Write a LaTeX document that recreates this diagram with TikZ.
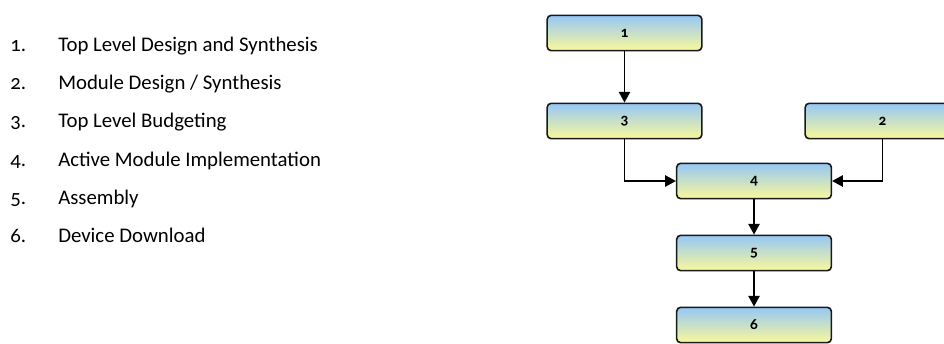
\documentclass[tikz,border=0pt]{standalone}
\usepackage{fontspec}
\setmainfont{Carlito}[Numbers=OldStyle]
\usetikzlibrary{arrows.meta}
\definecolor{boxtop}{RGB}{150,200,245}
\definecolor{boxbot}{RGB}{250,248,155}
\tikzset{
  px/.style={x=0.75pt,y=-0.75pt},
  stepbox/.style={draw=black!90, line width=1.2pt, rounded corners=3pt,
    top color=boxtop, bottom color=boxbot, minimum width=116pt, minimum height=26.5pt,
    inner sep=0pt, font=\bfseries\fontsize{11.5}{13}\selectfont},
  conn/.style={line width=1pt, -{Triangle[length=8pt,width=8.5pt]}},
  item/.style={anchor=base west, inner sep=0pt, font=\fontsize{15.6}{18}\selectfont}
}
\begin{document}
\begin{tikzpicture}[px]
\clip (0,0) rectangle (944,343);
\useasboundingbox (0,0) rectangle (944,343);
% list
\node[item] (n1) at (10,51) {1.};  \node[item] (t1) at (58,51) {Top Level Design and Synthesis};
\node[item] (n2) at (10,89) {2.};  \node[item] (t2) at (58,89) {Module Design / Synthesis};
\node[item] (n3) at (10,127) {3.}; \node[item] (t3) at (58,127) {Top Level Budgeting};
\node[item] (n4) at (10,166) {4.}; \node[item] (t4) at (58,166) {Active Module Implementation};
\node[item] (n5) at (10,204) {5.}; \node[item] (t5) at (58,204) {Assembly};
\node[item] (n6) at (10,242) {6.}; \node[item] (t6) at (58,242) {Device Download};
% boxes
\node[stepbox] (b1) at (624.5,33) {1};
\node[stepbox] (b3) at (624.5,121) {3};
\node[stepbox] (b2) at (882.5,121) {2};
\node[stepbox] (b4) at (754,181) {4};
\node[stepbox] (b5) at (754,253) {5};
\node[stepbox] (b6) at (754,325) {6};
% connectors
\draw[conn] (b1) -- (b3);
\draw[conn] (b3.south) |- (b4.west);
\draw[conn] (b2.south) |- (b4.east);
\draw[conn] (b4) -- (b5);
\draw[conn] (b5) -- (b6);
\end{tikzpicture}
\end{document}
